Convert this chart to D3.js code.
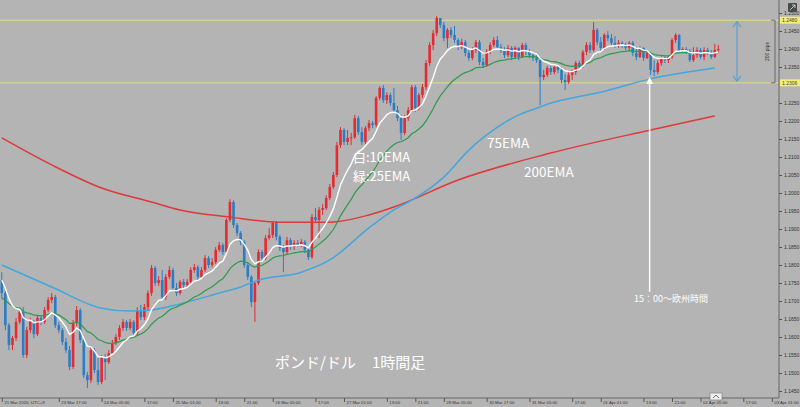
<!DOCTYPE html>
<html><head><meta charset="utf-8">
<script src="https://cdn.jsdelivr.net/npm/d3@7"></script>
<style>html,body{margin:0;padding:0;background:#b4b4b4;}svg{display:block}</style>
</head><body>
<svg id="c" width="800" height="407"></svg>
<script>
// ---- data (GBP/USD 1h) ----
const firstOpen = 1.1758;
const closes = [1.1722,1.1633,1.1578,1.1597,1.1642,1.1669,1.1550,1.1619,1.1642,1.1608,
1.1653,1.1642,1.1675,1.1703,1.1711,1.1633,1.1619,1.1586,1.1564,1.1517,
1.1639,1.1675,1.1592,1.1494,1.1480,1.1564,1.1508,1.1475,1.1544,1.1530,
1.1555,1.1583,1.1600,1.1625,1.1642,1.1625,1.1642,1.1611,1.1675,1.1655,
1.1683,1.1722,1.1792,1.1750,1.1758,1.1711,1.1767,1.1786,1.1736,1.1722,
1.1753,1.1744,1.1753,1.1786,1.1794,1.1767,1.1786,1.1819,1.1800,1.1808,
1.1842,1.1855,1.1836,1.1925,1.1975,1.1911,1.1889,1.1864,1.1800,1.1767,
1.1697,1.1750,1.1836,1.1819,1.1875,1.1883,1.1917,1.1878,1.1847,1.1836,
1.1869,1.1850,1.1861,1.1855,1.1864,1.1842,1.1822,1.1933,1.1925,1.1953,
1.1958,1.1986,1.2017,1.2050,1.2133,1.2175,1.2142,1.2153,1.2155,1.2208,
1.2169,1.2142,1.2180,1.2194,1.2189,1.2264,1.2292,1.2258,1.2272,1.2250,
1.2230,1.2208,1.2167,1.2208,1.2230,1.2294,1.2236,1.2272,1.2294,1.2361,
1.2411,1.2444,1.2486,1.2467,1.2430,1.2453,1.2439,1.2425,1.2405,1.2419,
1.2389,1.2375,1.2397,1.2419,1.2364,1.2355,1.2392,1.2411,1.2425,1.2405,
1.2397,1.2383,1.2403,1.2378,1.2403,1.2378,1.2411,1.2392,1.2383,1.2375,
1.2369,1.2322,1.2328,1.2347,1.2336,1.2350,1.2342,1.2314,1.2308,1.2328,
1.2336,1.2361,1.2353,1.2392,1.2411,1.2397,1.2453,1.2419,1.2403,1.2439,
1.2430,1.2417,1.2411,1.2417,1.2414,1.2403,1.2417,1.2389,1.2378,1.2403,
1.2375,1.2389,1.2342,1.2336,1.2361,1.2375,1.2369,1.2378,1.2425,1.2439,
1.2397,1.2400,1.2394,1.2369,1.2383,1.2397,1.2378,1.2397,1.2389,1.2378,
1.2397,1.2400];
const highs = [1.1780,1.1728,1.1639,1.1603,1.1653,1.1680,1.1683,1.1628,1.1653,1.1647,
1.1661,1.1658,1.1683,1.1711,1.1722,1.1717,1.1642,1.1625,1.1597,1.1575,
1.1647,1.1686,1.1680,1.1597,1.1503,1.1572,1.1569,1.1542,1.1550,1.1553,
1.1564,1.1592,1.1608,1.1633,1.1650,1.1647,1.1650,1.1647,1.1683,1.1689,
1.1692,1.1730,1.1800,1.1797,1.1769,1.1786,1.1775,1.1797,1.1792,1.1750,
1.1758,1.1761,1.1761,1.1794,1.1803,1.1800,1.1794,1.1828,1.1825,1.1819,
1.1850,1.1864,1.1861,1.1930,1.1983,1.1980,1.1917,1.1894,1.1869,1.1805,
1.1772,1.1755,1.1844,1.1842,1.1883,1.1903,1.1922,1.1922,1.1883,1.1855,
1.1878,1.1875,1.1869,1.1869,1.1872,1.1869,1.1847,1.1942,1.1958,1.1961,
1.1969,1.1994,1.2025,1.2058,1.2142,1.2183,1.2180,1.2175,1.2167,1.2217,
1.2214,1.2183,1.2186,1.2203,1.2200,1.2269,1.2297,1.2300,1.2280,1.2278,
1.2292,1.2242,1.2217,1.2217,1.2239,1.2300,1.2300,1.2278,1.2303,1.2369,
1.2419,1.2453,1.2492,1.2486,1.2475,1.2458,1.2461,1.2464,1.2430,1.2428,
1.2425,1.2397,1.2405,1.2425,1.2425,1.2375,1.2400,1.2419,1.2433,1.2436,
1.2414,1.2405,1.2411,1.2408,1.2408,1.2405,1.2417,1.2417,1.2400,1.2392,
1.2383,1.2378,1.2342,1.2353,1.2353,1.2358,1.2355,1.2350,1.2330,1.2336,
1.2342,1.2367,1.2367,1.2397,1.2419,1.2419,1.2475,1.2458,1.2433,1.2444,
1.2450,1.2442,1.2436,1.2425,1.2422,1.2417,1.2422,1.2422,1.2405,1.2408,
1.2405,1.2397,1.2392,1.2369,1.2369,1.2380,1.2380,1.2383,1.2430,1.2444,
1.2442,1.2405,1.2405,1.2400,1.2405,1.2405,1.2403,1.2405,1.2403,1.2397,
1.2414,1.2411];
const lows = [1.1708,1.1619,1.1564,1.1564,1.1589,1.1636,1.1542,1.1542,1.1611,1.1597,
1.1603,1.1633,1.1636,1.1669,1.1694,1.1625,1.1611,1.1578,1.1555,1.1508,
1.1511,1.1630,1.1583,1.1486,1.1458,1.1472,1.1500,1.1467,1.1469,1.1480,
1.1525,1.1550,1.1578,1.1592,1.1617,1.1617,1.1619,1.1603,1.1605,1.1647,
1.1647,1.1675,1.1714,1.1742,1.1742,1.1703,1.1703,1.1761,1.1728,1.1714,
1.1717,1.1736,1.1739,1.1747,1.1778,1.1758,1.1761,1.1780,1.1792,1.1794,
1.1803,1.1836,1.1828,1.1830,1.1919,1.1903,1.1880,1.1855,1.1792,1.1758,
1.1683,1.1642,1.1744,1.1811,1.1814,1.1869,1.1875,1.1869,1.1839,1.1780,
1.1830,1.1842,1.1842,1.1850,1.1850,1.1833,1.1814,1.1817,1.1917,1.1875,
1.1939,1.1953,1.1980,1.2011,1.2044,1.2125,1.2133,1.2133,1.2133,1.2150,
1.2161,1.2133,1.2136,1.2172,1.2180,1.2183,1.2258,1.2250,1.2247,1.2242,
1.2225,1.2200,1.2147,1.2161,1.2200,1.2225,1.2225,1.2230,1.2264,1.2286,
1.2353,1.2397,1.2436,1.2458,1.2422,1.2403,1.2430,1.2417,1.2397,1.2400,
1.2380,1.2367,1.2369,1.2389,1.2355,1.2347,1.2350,1.2386,1.2405,1.2397,
1.2389,1.2375,1.2378,1.2369,1.2372,1.2369,1.2375,1.2383,1.2375,1.2367,
1.2361,1.2244,1.2314,1.2322,1.2328,1.2330,1.2333,1.2305,1.2286,1.2303,
1.2314,1.2328,1.2347,1.2347,1.2383,1.2389,1.2392,1.2411,1.2394,1.2397,
1.2422,1.2408,1.2403,1.2403,1.2403,1.2397,1.2397,1.2380,1.2369,1.2375,
1.2367,1.2372,1.2328,1.2325,1.2330,1.2353,1.2361,1.2361,1.2372,1.2417,
1.2392,1.2389,1.2386,1.2364,1.2364,1.2375,1.2372,1.2369,1.2383,1.2372,
1.2375,1.2389];

// EMA seeds (value of each EMA at the first candle)
const ema10Seed = 1.1758;
const ema25Seed = 1.1708;
// 75EMA and 200EMA at candle indices
const ema75Idx = [0,14,28,36,42,50,61,67,72,84,92,103,110,115,124,131,140,145,151,154,160,168,182,200];
const ema75Val = [1.1800,1.1739,1.1680,1.1672,1.1675,1.1692,1.1722,1.1739,1.1758,1.1780,1.1814,1.1903,1.1953,1.1980,1.2044,1.2119,1.2189,1.2217,1.2239,1.2250,1.2264,1.2280,1.2317,1.2347];
const ema200Idx = [0,14,28,42,50,64,78,92,103,110,128,154,182,200];
const ema200Val = [1.2153,1.2078,1.2014,1.1975,1.1953,1.1933,1.1919,1.1919,1.1939,1.1961,1.2036,1.2111,1.2175,1.2214];

const yTicks = [1.1450,1.1500,1.1550,1.1600,1.1650,1.1700,1.1750,1.1800,1.1850,1.1900,1.1950,1.2000,1.2050,1.2100,1.2150,1.2200,1.2250,1.2300,1.2350,1.2400,1.2450,1.2500];
const xTickIdx = [0,16,28,40,48,60,68,76,88,96,108,116,124,136,148,160,168,180,188,196,208,216];
const xTickLabels = ["21 Mar 2020, UTC+9","23 Mar 17:00","24 Mar 05:00","17:00","25 Mar 01:00","13:00","21:00","26 Mar 05:00","17:00","27 Mar 01:00","13:00","21:00","28 Mar 05:00","30 Mar 17:00","31 Mar 05:00","17:00","01 Apr 01:00","13:00","21:00","02 Apr 05:00","17:00","03 Apr 01:00"];
const levels = [1.2480, 1.2306];
const rangeLabel = "200 pips";
const arrowLevel = 1.2328;   // white arrow tip
const arrowIdx = 182;

// ---- drawing ----
const svg = d3.select("#c");
const W = 800, H = 407, AX = 779, BY = 398;
const x = d3.scaleLinear().domain([0, 216]).range([1.8, 1.8 + 216 * 3.565]);
const y = d3.scaleLinear().domain([1.145, 1.25]).range([391, 13]);

svg.append("rect").attr("width", W).attr("height", H).attr("fill", "#b4b4b4");

// level lines
svg.selectAll("line.lvl").data(levels).enter().append("line")
  .attr("x1", 0).attr("x2", AX).attr("y1", d => y(d)).attr("y2", d => y(d))
  .attr("stroke", "#e2dc8c").attr("stroke-width", 1);

// candles
const candles = closes.map((c, i) => ({i, o: i === 0 ? firstOpen : closes[i - 1], c, h: highs[i], l: lows[i]}));
const UP = "#e52a30", DN = "#2b7cc6";
const cg = svg.append("g");
cg.selectAll("line.w").data(candles).enter().append("line")
  .attr("x1", d => x(d.i)).attr("x2", d => x(d.i))
  .attr("y1", d => y(d.h)).attr("y2", d => y(d.l))
  .attr("stroke", d => d.c >= d.o ? UP : DN).attr("stroke-width", 1);
cg.selectAll("rect.b").data(candles).enter().append("rect")
  .attr("x", d => x(d.i) - 1.3).attr("width", 2.6)
  .attr("y", d => y(Math.max(d.o, d.c)))
  .attr("height", d => Math.max(1, Math.abs(y(d.o) - y(d.c))))
  .attr("fill", d => d.c >= d.o ? UP : DN);

// EMAs
function emaSeries(period, seed) {
  const k = 2 / (period + 1); let e = seed;
  return closes.map((c, i) => { if (i > 0) e = e + k * (c - e); return e; });
}
const ema10 = emaSeries(10, ema10Seed), ema25 = emaSeries(25, ema25Seed);
const lineI = d3.line().x((d, i) => x(i)).y(d => y(d));
const lineS = d3.line().x(d => x(d[0])).y(d => y(d[1])).curve(d3.curveMonotoneX);
svg.append("path").attr("d", lineS(ema200Idx.map((d, i) => [d, ema200Val[i]])))
  .attr("fill", "none").attr("stroke", "#de3a3a").attr("stroke-width", 1.5);
svg.append("path").attr("d", lineS(ema75Idx.map((d, i) => [d, ema75Val[i]])))
  .attr("fill", "none").attr("stroke", "#43a6dc").attr("stroke-width", 1.5);
svg.append("path").attr("d", lineI(ema25)).attr("fill", "none").attr("stroke", "#2f9a4c").attr("stroke-width", 1.2);
svg.append("path").attr("d", lineI(ema10)).attr("fill", "none").attr("stroke", "#ffffff").attr("stroke-width", 1.4);

// axes lines
svg.append("line").attr("x1", AX).attr("x2", AX).attr("y1", 0).attr("y2", BY).attr("stroke", "#666").attr("stroke-width", 1);
svg.append("line").attr("x1", 0).attr("x2", AX).attr("y1", BY).attr("y2", BY).attr("stroke", "#666").attr("stroke-width", 1);

const small = "'Liberation Sans', Arial, sans-serif";
// right axis
const ra = svg.append("g").attr("transform", `translate(${AX},0)`)
  .call(d3.axisRight(y).tickValues(yTicks.filter(t => levels.every(l => Math.abs(y(t) - y(l)) > 5)))
    .tickSize(3).tickPadding(2).tickFormat(d3.format(".4f")));
ra.select(".domain").remove();
ra.selectAll("line").attr("stroke", "#555");
ra.selectAll("text").attr("fill", "#333").style("font", `5px ${small}`);

// bottom axis
const ba = svg.append("g").attr("transform", `translate(0,${BY})`)
  .call(d3.axisBottom(x).tickValues(xTickIdx).tickSize(4).tickFormat((d, i) => xTickLabels[i]));
ba.select(".domain").remove();
ba.selectAll("line").attr("stroke", "#555");
ba.selectAll("text").attr("fill", "#333").attr("text-anchor", "start").attr("dx", 2).attr("y", 3)
  .style("font", `4.3px ${small}`);

// level labels on axis
const lg = svg.selectAll("g.lv").data(levels).enter().append("g");
lg.append("rect").attr("x", AX + 1).attr("y", d => y(d) - 3.5).attr("width", 20).attr("height", 7).attr("fill", "#f1ef76");
lg.append("text").attr("x", AX + 3).attr("y", d => y(d) + 1.8).text(d => d.toFixed(4))
  .attr("fill", "#444").style("font", `5px ${small}`);

// range bracket
const yt = y(levels[0]), yb = y(levels[1]);
svg.append("path").attr("d", `M771,${yt}H775V${yb}H771`).attr("fill", "none").attr("stroke", "#555").attr("stroke-width", 0.8);
svg.append("text").attr("transform", `translate(769,${(yt + yb) / 2}) rotate(-90)`).attr("text-anchor", "middle")
  .text(rangeLabel).attr("fill", "#333").style("font", `5px ${small}`);

// top right icon & bottom scroll icon
svg.append("rect").attr("x", 788).attr("y", 3).attr("width", 9).attr("height", 9).attr("rx", 1).attr("fill", "#4a4a4a");
svg.append("path").attr("d", "M790,10L795,5M792,5H795V8").attr("stroke", "#ddd").attr("fill", "none").attr("stroke-width", 0.8);
svg.append("rect").attr("x", 710).attr("y", 393).attr("width", 12).attr("height", 7).attr("fill", "#eeeeee").attr("stroke", "#777").attr("stroke-width", 0.6);
svg.append("path").attr("d", "M713,398L716,395L719,398").attr("stroke", "#555").attr("fill", "none").attr("stroke-width", 0.8);

// blue double arrow
const bx = 737;
svg.append("line").attr("x1", bx).attr("x2", bx).attr("y1", yt + 2).attr("y2", yb - 2).attr("stroke", "#5a9fd6").attr("stroke-width", 1.2);
svg.append("path").attr("d", `M${bx - 4},${yt + 7}L${bx},${yt + 1.5}L${bx + 4},${yt + 7}M${bx - 4},${yb - 7}L${bx},${yb - 1.5}L${bx + 4},${yb - 7}`)
  .attr("stroke", "#5a9fd6").attr("fill", "none").attr("stroke-width", 1.2);

// white arrow
const ax = x(arrowIdx) - 1, ay = y(arrowLevel) + 2;
svg.append("line").attr("x1", ax).attr("x2", ax).attr("y1", 292).attr("y2", ay + 4).attr("stroke", "#fff").attr("stroke-width", 1.5);
svg.append("path").attr("d", `M${ax - 3.5},${ay + 7}L${ax},${ay}L${ax + 3.5},${ay + 7}Z`).attr("fill", "#fff");

// annotations
const jp = "'Noto Sans CJK JP', 'Noto Sans', sans-serif";
function label(t, xx, yy, size) {
  svg.append("text").attr("x", xx).attr("y", yy).text(t).attr("fill", "#fff").style("font", `${size}px ${jp}`);
}
label("白:10EMA", 353, 162, 13);
label("緑:25EMA", 353, 181, 13);
label("75EMA", 487, 148, 13.5);
label("200EMA", 524, 177, 13.5);
label("15：00～欧州時間", 634, 302, 9);
label("ポンド/ドル", 275, 368, 15);
label("1時間足", 372, 368, 15);
</script>
</body></html>
